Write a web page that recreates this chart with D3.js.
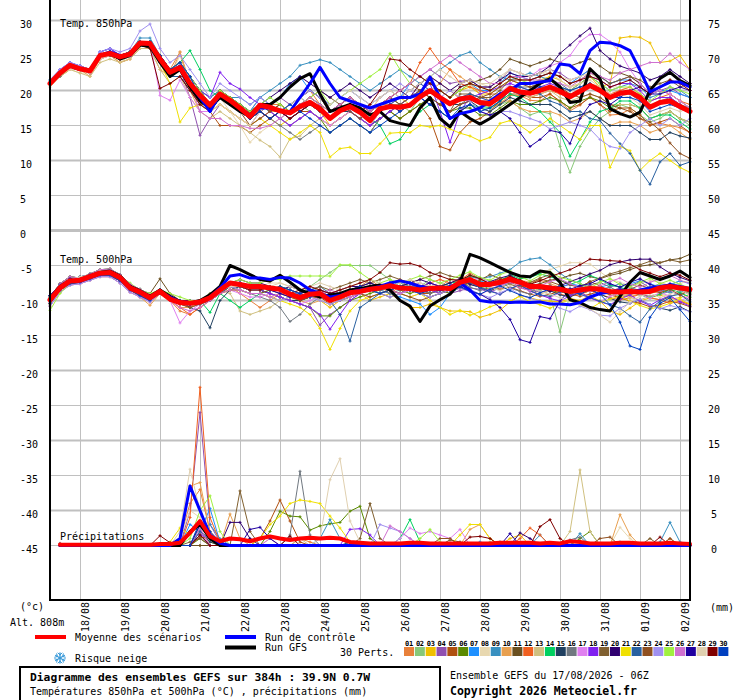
<!DOCTYPE html>
<html><head><meta charset="utf-8">
<script src="https://cdn.jsdelivr.net/npm/d3@7"></script>
<style>
body{margin:0;background:#fff;}
svg text{font-family:"DejaVu Sans Mono",monospace;font-size:10px;fill:#000;}
</style></head><body>
<svg id="c" width="740" height="700"></svg>
<script>
// ---------- categories / labels ----------
const dayLabels = ["18/08","19/08","20/08","21/08","22/08","23/08","24/08","25/08","26/08","27/08","28/08","29/08","30/08","31/08","01/09","02/09"];
const firstDayHour = 18;           // 18/08 00Z = run start (17/08 06Z) + 18 h
const stepHours = 6;
const leftTickLabels  = [30,25,20,15,10,5,0,-5,-10,-15,-20,-25,-30,-35,-40,-45];
const rightTickLabels = [75,70,65,60,55,50,45,40,35,30,25,20,15,10,5,0];
const memberNames = ["01","02","03","04","05","06","07","08","09","10","11","12","13","14","15","16","17","18","19","20","21","22","23","24","25","26","27","28","29","30"];
const memberColors = ["#e8803a","#88c878","#f0c000","#9050b0","#b05010","#5a8a00","#1e90ff","#e8d8b0","#3890c0","#e8a050","#6a5020","#f06020","#d0c080","#00d060","#204060","#707880","#e080f0","#8020f0","#806030","#300070","#f0e000","#2860a0","#905020","#a090f0","#a0f040","#d070d0","#2000a0","#e0d0b0","#800000","#0040c0"];

// ---------- Temp 850 hPa ----------
const mean850 = [21.0,22.5,23.6,23.1,22.8,25.0,25.3,24.8,25.2,26.8,26.7, 24.5,22.6,23.3,21.0,19.3,17.9,19.5,18.6,17.5,16.3, 17.9,17.6,17.1,16.8,17.7,18.3,17.4,16.0,17.1,17.7, 16.9,15.7,17.4,17.7,17.6,17.9,19.1,20.0,19.0,18.1, 18.8,19.0,18.3,18.1,19.1,20.3,19.8,19.6,20.0,20.5, 19.9,19.1,19.9,20.7,20.0,19.0,19.6,19.8,19.0,17.6, 18.3,18.5,17.7,17.0];
const control850 = [21,22.5,23.5,23,23,25,25.5,25,25,26.8,26.8, 24.5,22.5,23.5,21,19,17,19.5,18.5,17.5,16.5, 17.5,17.5,17,17,19,21,23.3,21,19,18.5, 18,17.5,18,18.5,19,19,19.5,21.9,19,16, 16.7,17,17.5,18.5,19.5,20,21,21,21.2,21.4, 23.8,23.6,22.4,25.7,26.9,26.8,26.4,25.7,22.9,19.8, 20.5,21.2,21.2,20.5];
const gfs850 = [21,22.5,23.5,23,22.8,25,25.3,24.5,25,26.5,26.3, 24,22,23,20.5,18.5,17.5,19,18,17,16.5, 18,18,19,20.5,21.7,22.4,19.5,17,17.5,18, 17.5,16.5,17,15.7,15.3,15,17.5,19,16,14.8, 17,16,15.2,16,17,18,19,20,21,21.7, 20.5,18.3,18.5,23.1,21.7,17.4,16.7,16.2,16.9,20, 21.7,22.6,21.4,20.7];
const members850 = [
[21,22.5,23.5,23,22.5,25,25,24,24.5,26.5,26.5, 25,23,25.5,21,20,18,20,19,18,17, 19,18,18,17,19,20,18,17,18,19, 18,17,19,20,19,19,21,22,21,20, 18.8,19.5,18.3,17.6,18.1,19.3,19.3,18.6,18.5,19.5, 18.4,17.1,17.9,19.2,18,16.5,16.6,17.3,16,15.1, 15.3,15,14.7,14],
[21.5,22.5,23.5,23,23,25,25.5,25,25.5,27,27, 25,22,23,21,19,17,19,18,17,16, 18,17,16,17,18,17,16,15,16,17, 16,15,17,18,18,17,19,20,19,18, 18.5,19,18,17.5,18,18.5,17.5,16.5,17,16.7, 12,8.3,12,14.3,16,17,18,17.5,16.5,15.5, 16,17,16,15],
[21,22,23,23,22.5,24.5,25,24.5,25,26.5,26.5, 24,22,23,20,18,18,20,19,18,16, 17,16,15,16,17,18,17,15,16,17, 16,15,17,18,19,18,20,21,20,19, 20,20.5,19.5,19.5,20.5,21.5,21,21,21.5,22, 21.5,20.5,21,22,20.5,21,27.5,27.7,27.6,26.8, 24,24.2,25,22.9],
[21,22,23.5,23,22.5,25,25,24.5,25,27,27, 24,22,23,19,13.6,16,18,17,16,15, 17,18,19,18,19,20,19,17,18,19, 18,17,18,19,20,21,22,23,22,21, 21.3,21.5,20.5,20.5,21.5,23,22.5,22,22.5,23, 22.5,21.5,22,23,22,21,21.5,22,21,19.5, 20,20.5,19.5,19],
[21,22.5,23.5,23,23,25,25.5,25,25,26.5,26.5, 24,22,22,20,18,17,15,15,14.9,14, 15,16,17,16,17,17,16,15,16,17, 16,15,16,17,16,17,18,16,12,11.5, 14,15.5,16,17,18.5,19.5,19.5,19,19,19.5, 18.5,17.5,18,19,18,17,17.5,17.5,16.5,15, 15.5,16,15,14],
[21,22,23.5,23,22.5,25,25,24.5,25,26.5,26.5, 25,23,24,22,20,19,20,19,18,17, 18,17,16,15,16,17,16,14,15,16, 15,14,16,17,16,17,18,19,18,17, 17.5,17.5,16.5,16.5,17.5,18.5,18,18,18.5,19, 18.5,17.5,18.5,19,18.5,17.5,18,18,17.5,16, 16.5,17,16,15.5],
[21.5,23,24,23.5,23,25.5,26,25,25.5,27,27, 25,23,24,22,19,18,20,19,18,17, 19,18,19,21,22,20,19,18,19,20, 19,18,19,20,19,21,22,21,20,19, 20.5,21,20,20,21,22.5,22,21.5,22,22.5, 22,21,22,23,22,21,21.5,21.5,20.5,19.5, 20,20,19.5,19],
[21,22.5,23,22.5,22.5,24.5,25,24,25,26,26, 24,22,25,21,19,18,19,17,15,12.6, 14,15,16,17,18,19,18,17,18,19, 18,17,19,20,19,20,21,22,21,20, 21,21.5,21,20.5,21.5,23,22.5,22,22.5,23, 22,21.5,22,22.5,21.5,20.5,20.5,20,19.5,18, 18.5,18.5,17.5,17],
[21,22.5,24,23.5,23,25.5,26,25,25.5,27.5,27.5, 25,23,24,22,20,19,20,19,19,18, 19,20,21,22,23.6,24,24.4,24,23,22, 21,20,21,22,23,22,21,22,23,24, 25,25.5,24,23,22,21.5,22,22.5,22,21.5, 20.5,20,21,22,21,20,20.5,21,20.5,19, 19.5,20.5,20,19],
[21,22,23,23,22,24.5,25,24,24.5,26,26, 23,22,25.5,20,17,17,18,17,16,15, 16,17,17,16,17,18,17,16,17,18, 17,16,18,18,17,18,19,20,21,23, 22,21,19.5,18.5,18.5,18.5,17.5,17,17,17, 16.5,15.5,16,17,16,15,15.5,15.5,15,14, 14.5,15,14,13],
[21,22.5,23.5,23,23,25,25.5,25,25.5,27,27, 25,23,23,21,20,18,19,18,17,16, 17,18,17,18,19,20,19,17,18,19, 18,17,18,19,18,19,20,21,20,19, 20,21,21.5,22,23,24.5,24,23.5,24,24.5, 24,23.5,24,24.5,23.5,22.5,22.5,22,21,19.5, 20,19.5,18.5,17.5],
[21,22.5,23.5,23,22.5,25,25,24.5,25,26.5,26.5, 24,23,23,21,19,18,19,18,17,16, 17,18,17,16,17,18,17,16,17,18, 17,16,18,19,20,21,24,26,24,23, 21,20.5,20,19.5,19.5,20,19.5,19,19.5,20, 19.5,19,20,21,20.5,19.5,20,20.5,19.5,18.5, 19,19.5,18.5,18],
[20.5,22,23,22.5,22,24,24.5,24,24.5,26,26, 23,21,22,19,17,16,17,16,15,14, 12.9,12,10.5,13.1,13.5,15,16,15,16,17, 16,15,17,18,17,18,19,20,19,18, 19,19.5,18.5,18,19,20,19.5,19,19.5,20, 19,18.5,19,19.5,19,18,18,18,17.5,16, 16.5,17,16,15.5],
[21,22.5,23.5,23,23,25,25,24.5,25,26.5,27, 25,23,24,25.7,23,20,19,19,18,17, 18,17,18,17,18,19,18,16,17,18, 17,16,15,12.4,13,15,17,18,17,16, 17,18,17.5,17.5,18.5,19.5,19,18,17,15.5, 14,10.6,13,15.5,17,17.5,18.5,18.5,17.5,16, 16.5,16.5,15.5,14.5],
[21,22.5,23.5,23,23,25,25.5,25,25.5,27,26.5, 24,22,23,21,19,18,19,18,17,16, 17,16,17,16,17,18,17,16,17,17, 16,15,16,17,18,18,19,20,19,18, 18,18.5,17.5,17,18,19,18.5,18,18,18, 17,16,16.5,17,16,15,15,15,14,13, 13,14,13.5,13.2],
[21,22,23.5,23.5,23,25,25,24.5,25,26.5,26.5, 24,22,23,21,19,17,19,18,17,16, 17,16,15,14,13,14,15,14,15,16, 15,14,16,17,18,19,20,19,18,17, 18,19,18.5,18.5,19.5,20.5,20.5,20.5,21,21.5, 21,20,20.5,21,20,19,19.5,19.5,18.5,17.5, 18.5,19,18,17.5],
[21,22.5,23.5,23,22.5,25,25,24.5,25,27,27, 19.3,18.6,21.5,19,17,17,18,17,16,15, 16,17,16,15,16,17,16,15,16,17, 16,15,17,18,19,20,21,20,19,18, 19,19.5,19,18.5,19.5,21,22,22,23,23.5, 24,25,27,28,28,27,25.5,23,21,19.5, 20,19.5,18.5,17.5],
[21,23,24,23.5,23,25.5,26,25,25.5,27,27, 25,23,24,22,20,19,22.6,21,20.2,19, 18,17,16,15,16,17,16,17,18,17, 16,15,16,17,18,19,20,21,17,12.6, 17,19,19.5,20,20.5,21,20.5,20,20.5,21, 20.5,20,21,22,21.5,20.5,21,21,20,18.5, 19,19,18,17],
[21,22.5,23.5,23,23,25,25.5,25,25,26.5,26.5, 24,22,23,21,19,18,19,18,17,16, 18,17,18,17,18,19,20,19,18,17, 16,17,18,19,18,19,20,19,18,17, 19.5,19.5,19,19,20,21.5,21.5,21.5,22,22.5, 22,21,21.5,22.5,22,21,21.5,22,21.5,20.5, 21,21.5,20.5,21],
[21,22.5,23.5,23,23,25,25.5,25,25.5,27,27, 25,23,24,22,20,18,20,19,18,17, 18,19,20,21,22,21,20,19,20,21, 20,19,20,21,20,19,21,22,21,20, 21,21.5,20.5,20.5,21.5,22.5,22,22,22.5,23.5, 25.3,26.5,27.8,28.9,25.7,24.5,23.5,23,22.5,21.5, 22,23,22,21],
[21,22.5,23.5,23,23,25,25,24.5,25,26.5,26.5, 24,21,15.5,17.5,18,17,18,17,16,15, 16,15,14,13,14,15,14,10.5,11.7,11.9, 11,11,12.4,13.9,14,14,15,14.8,15,14.5, 13.9,13.5,12.8,13.3,15.3,15.7,15,14,15,16, 15,14,13,15,15,9,12,11.4,8.6,10, 11,10,9,8.3],
[21,22.5,23.5,23,23,25,25,24.5,25,26.5,26.5, 24,22,22,20,18,17,19,18,17,16, 17,16,17,18,19,18,17,16,17,18, 17,16,17,18,19,20,21,20,19,18, 19,19.5,19,18.5,19.5,20.5,20.5,20,19.5,18.5, 18,17,17,16,15.7,13.9,12.4,11,8.6,6.6, 9.8,11,9.3,9.8],
[21,22.5,23.5,23,22.5,25,25,24.5,25,26.5,26.5, 24,22,23,21,19,18,20,19,17,15, 16,17,18,17,18,19,18,17,18,19, 18,17,18,19,20,21,20,19,18,17, 18,18.5,19,19.5,20.5,21.5,21,20.5,21,21.5, 20.5,19.5,19,19.5,19,18,17.5,17,16,15.5, 14.3,12.5,11,10.3],
[21.5,23,24,23.5,23,25.5,26,25.5,26,28.5,29.5, 26,24,25,23,21,19,21,20,19,18, 19,18,17,18,19,20,19,18,19,20, 19,18,19,20,21,20,19,18,19,20, 19,18.5,17,16.5,17,17,16.5,16,15.5,14.5, 15,15.5,15,14.5,13,12,11.7,14,15,16, 15,16,15,16],
[21,22.5,23.5,23,23,25,25.5,25,25.5,27,27, 25,23,24,22,20,18,20,19,18,17, 18,19,18,17,18,19,20,18,19,20, 21,22,23,25.3,23,21,22,21,20,19, 20,21,20.5,20,21,22,21.5,21,21.5,21.5, 20.5,20,21,22,21,20,20.5,20.5,19.5,18.5, 19.5,20.5,20,19.5],
[21,22.5,23.5,23,22.5,24.5,25,24.5,25,26.5,26.5, 24,22,23,21,17,16,16,15,15,14.6, 14.6,15,16,17,18,19,18,17,18,19, 18,17,18,19,20,21,22,23,24,25, 24,23,22,21,21,22,22,21.5,21.5,21.5, 21,20.5,21.5,22.5,22,21.5,22.5,23,23.5,24, 24,25.3,24,23],
[21,22.5,23.5,23,23,25,25.5,25,25,26.5,26.5, 25,23,23.5,21,19,18,19,18,17,16, 17,18,17,16,17,18,17,16,17,18, 17,16,17,18,17,18,19,18,17,16, 17,18,17,16.5,17,16,14,12,13,14.3, 14,12.4,16,18,18.5,18,19,20,20.5,19.5, 19.5,20,20.5,20],
[21,22.5,23,23,22.5,24.5,25,24.5,25,26.5,26.5, 24,22,23,20,18,17,18,17,16,15, 17,18,17,18,19,18,17,18,19,20, 19,18,19,20,19,20,21,22,23,22, 21,21.5,21,21,22,23,22.5,22,22.5,22.5, 21.5,20.5,21,21.5,20.5,19.5,19.5,19,18,16.5, 17,17.5,17,17.5],
[21,22.5,23.5,23,23,25,25,24.5,25,26.5,26, 20.3,21,22,20,18,17,19,18,17,16, 17,16,17,16,17,18,17,16,17,18, 17,18,20,24.5,24.3,23,22,21,20,19, 20.5,21,20.5,20,21,22,21.5,21.5,22,22.5, 22,21,21.5,22,21.5,20.5,21,21.5,20.5,19.5, 20.5,21.5,21,20],
[21,22.5,23.5,23,23,25,25.5,25,25.5,27,27, 25,23,24,22,19,17,19,18,17,16, 17,16,17,18,17,16,15,14,15,16, 15,14,15,16,17,18,19,18,17,16, 17.5,18,17,17.5,18.5,20,19.5,19.5,20.5,20.5, 20.5,20,20.5,21,20,19,19,19,18.5,17, 17.5,18,17.5,17]
];

// ---------- Temp 500 hPa ----------
const mean500 = [-9.9,-8.2,-7.2,-7.1,-6.6,-6.1,-6.0,-6.7,-8.2,-8.8,-9.6, -8.7,-9.8,-10.3,-10.4,-10.2,-9.6,-8.5,-7.5,-7.7,-8.0, -8.0,-8.2,-8.4,-9.1,-9.6,-9.1,-9.0,-10.0,-9.5,-8.9, -8.7,-8.4,-8.2,-7.9,-8.2,-8.3,-8.5,-8.3,-8.2,-8.3, -7.4,-7.0,-7.7,-7.7,-7.4,-7.0,-7.4,-8.0,-8.0,-8.2, -8.4,-8.7,-8.5,-8.3,-8.4,-8.7,-8.8,-8.7,-8.8,-8.7, -8.2,-8.0,-8.2,-8.4];
const control500 = [-10,-8.3,-7.3,-7.2,-6.6,-6.2,-6.0,-6.8,-8.2,-8.7,-9.5, -8.8,-9.5,-10.2,-10.5,-10.3,-9.5,-8.2,-6.5,-6.3,-6.8, -6.8,-7.0,-6.7,-6.8,-7.5,-8.5,-9.0,-9.5,-9.3,-8.8, -8.5,-8.3,-8.0,-7.5,-7.2,-7.5,-8.0,-8.2,-8.5,-8.0, -7.5,-8.5,-10.0,-10.2,-10.2,-10.3,-10.2,-10.3,-10.2,-10.5, -10.5,-10.6,-10.3,-9.5,-9.0,-8.8,-8.5,-8.8,-8.5,-8.2, -8.0,-7.8,-8.0,-8.3];
const gfs500 = [-9.8,-8.0,-7.2,-7.0,-6.5,-6.0,-5.8,-6.5,-8.0,-8.6,-9.4, -8.5,-9.4,-10.2,-10.4,-10.0,-9.2,-8.0,-5.0,-5.6,-6.3, -7.0,-7.2,-6.4,-7.4,-8.5,-9.0,-9.5,-9.2,-9.0,-8.5, -8.3,-8.0,-7.8,-8.5,-10.0,-10.8,-13.0,-10.8,-9.9,-9.1, -7.4,-3.4,-3.9,-4.6,-5.3,-6.0,-6.5,-6.6,-5.8,-6.0, -7.4,-9.9,-10.3,-11.0,-11.3,-11.5,-9.4,-7.4,-6.0,-6.5, -7.0,-6.5,-5.8,-6.7];
const members500 = [
[-10,-8,-7,-7,-6.5,-6,-6,-7,-8,-9,-9.5, -9,-10,-11.5,-12,-11,-10,-9,-8,-9,-10, -11,-10,-9,-9,-10,-9,-8,-9,-10,-9, -8,-7,-8,-9,-8,-7,-8,-9,-8,-7, -7.2,-6.5,-7,-7.6,-7.4,-6.8,-7.2,-7.9,-8.5,-8.3, -8.2,-8.8,-8.6,-7.9,-8.1,-8.9,-9.6,-9.2,-8.7,-8.9, -8.8,-8.4,-8.9,-9.6],
[-9.5,-7.6,-6.6,-6.8,-6.2,-5.6,-5.5,-6.3,-7.7,-8.4,-9.2, -8.5,-9.5,-10,-10,-10,-9,-8,-7.5,-7.5,-8, -8,-8.5,-8,-8.5,-9,-8,-7,-6,-5,-5, -5,-5,-6,-7,-8,-7.5,-8,-7,-7.5,-8, -7.1,-6.6,-6.9,-7.2,-7.4,-7.1,-7.5,-8.1,-8.6,-9.1, -14.5,-9.2,-8.6,-8.1,-8.4,-8.9,-9.4,-9.1,-8.6,-8.1, -7.6,-7.8,-7.2,-7.5],
[-10.4,-8.5,-7.6,-7.4,-6.9,-6.4,-6.4,-7.2,-8.5,-9.3,-10, -9,-10,-10.5,-11,-10,-9.5,-9,-8,-8.5,-9, -9,-9.5,-10,-9.5,-10,-9,-10,-11,-10,-9.5, -9,-10,-9.5,-9,-10,-11,-11,-10.5,-11,-11.5, -11.5,-11.6,-12.4,-12,-11.4,-10.2,-9.3,-9.6,-10,-10.1, -10.2,-9.7,-10,-9.3,-10.1,-11.5,-12,-11.1,-10.1,-9.6, -9.2,-9.8,-9.6,-9.1],
[-9.8,-7.9,-7.1,-6.6,-6.4,-5.8,-5.8,-6.8,-8.1,-8.7,-9.4, -8.5,-9.5,-10.5,-11,-10.5,-9.5,-8.5,-8,-8,-8.5, -8.5,-9,-9.5,-10,-10.5,-11,-13.5,-12,-11,-10, -9,-8.5,-8,-8.5,-9,-8,-7.5,-8,-8.5,-9, -8.6,-8.2,-8.4,-8.8,-8.2,-7.6,-7.9,-8.4,-8.8,-8.6, -8.1,-7.7,-8.1,-8.6,-9,-8.7,-8.2,-8.6,-9.1,-9.4, -9.1,-8.7,-9.2,-9.9],
[-10.8,-8.8,-7.8,-7.6,-7.1,-6.6,-6.6,-7.5,-8.8,-9.5,-10.2, -9,-10,-10,-10.5,-10.5,-10,-9,-8,-8,-8.5, -8.5,-8,-8.5,-9,-10,-9.5,-9.5,-10.5,-10,-9.5, -9,-8.5,-8,-7.5,-8,-8.5,-9,-9,-8.5,-8, -7.6,-7.1,-7.6,-8.1,-8.4,-8.1,-8.6,-9.1,-9.4,-9.1, -8.7,-9.1,-9.4,-9.1,-8.7,-9.2,-9.6,-10.1,-10.4,-10.9, -10.6,-10.1,-10.4,-10.9],
[-10.5,-8.5,-7.5,-7,-6.5,-6,-6,-7,-8,-9,-9.5, -9,-10,-10.5,-10.5,-10,-9.5,-9,-8,-8,-8.5, -8.5,-9,-9.5,-10,-10.5,-11,-12.2,-12.2,-11,-10, -9.5,-9,-8.5,-8,-8.5,-9,-8.5,-8,-8.5,-9, -8.1,-7.7,-8.1,-8.4,-8.1,-7.6,-8.1,-8.6,-8.2,-8.5, -8.9,-8.7,-9.1,-8.6,-8.2,-8.6,-9.1,-8.7,-9.2,-8.6, -8.1,-8.4,-8.1,-8.9],
[-9.3,-7.8,-6.9,-7.1,-6.3,-6.1,-5.9,-6.6,-7.9,-8.9,-9.7, -8.5,-9.5,-10,-10.5,-10,-9.5,-8.5,-7.5,-7.5,-8, -8,-8,-8.5,-9,-9,-8.5,-8.5,-9,-9.5,-9, -8.5,-8,-8.5,-9,-9.5,-10,-10.5,-12,-11,-9, -8.1,-7.6,-7.2,-7.6,-7.9,-7.6,-7.2,-7.6,-8.1,-8.4, -8.1,-7.6,-7.9,-8.4,-8.1,-7.7,-8.1,-7.6,-7.2,-7.6, -8.1,-7.7,-7.2,-7.6],
[-9.5,-7.6,-6.6,-6.8,-6.2,-5.6,-5.5,-6.3,-7.7,-8.4,-9.2, -9,-9.5,-10,-10.5,-10,-9.5,-8.5,-7.5,-7.5,-8, -8,-7.5,-7.5,-8,-8.5,-8,-8.5,-9,-8.5,-8, -7.5,-7,-7.5,-8,-7.5,-7,-7.5,-8,-7.5,-7, -7.2,-6.6,-7,-7.4,-7.1,-6.6,-6.9,-6.6,-6.1,-5.6, -5.1,-4.6,-4.6,-4.8,-5.9,-6.9,-7.4,-7.9,-7.6,-7.1, -7.4,-7.9,-7.6,-7.1],
[-9.8,-7.9,-7.1,-6.6,-6.4,-5.8,-5.8,-6.8,-8.1,-8.7,-9.4, -9,-9.5,-10,-10.5,-10.5,-9.5,-8.5,-7.5,-7.5,-8, -8,-8.5,-8,-8.5,-9,-8.5,-8,-9,-9.5,-9, -8.5,-8,-8.5,-8,-7.5,-8,-8,-8.5,-8,-7.5, -7.1,-6.6,-6.9,-6.6,-6.1,-5.6,-4.5,-4.1,-3.9,-4.9, -6.1,-7.1,-7.6,-8.1,-8.4,-8.1,-7.6,-8.1,-8.6,-8.1, -8.4,-8.9,-8.6,-9.1],
[-10,-8,-7,-7,-6.5,-6,-6,-7,-8.5,-9.5,-10.7, -9,-10,-11,-11,-10.5,-10,-9,-8,-8.5,-9, -9,-9.5,-9,-9.5,-10,-10.5,-10,-10.5,-10,-9.5, -9,-8.5,-8,-8.5,-8,-7.5,-8,-8.5,-9,-8.5, -8.1,-7.6,-7.9,-7.6,-7.1,-6.6,-7.1,-7.4,-7.1,-7.6, -8.1,-8.6,-8.9,-8.6,-8.1,-8.6,-9.1,-9.4,-9.1,-9.6, -9.9,-9.6,-10.1,-10.4],
[-10,-8,-7,-7,-6.5,-6,-6,-6.5,-8,-8.5,-9, -6.9,-9,-10,-10.5,-10,-9.5,-8.5,-8,-8,-8.5, -8.5,-9,-9.5,-10,-10,-9.5,-9.5,-10,-9.5,-9, -9,-8.5,-9,-9.5,-9,-8.5,-8.5,-9,-8.5,-8, -7.6,-7.1,-7.4,-7.9,-7.6,-7.1,-7.4,-7.9,-7.6,-7.1, -6.9,-6.4,-6.1,-6.6,-6.9,-6.4,-6.1,-5.6,-5.1,-4.9, -4.6,-4.2,-4,-3.4],
[-10.4,-8.5,-7.6,-7.4,-6.9,-6.4,-6.4,-7.2,-8.5,-9.3,-10, -9,-10,-11,-12,-11,-10,-9,-8,-8,-8.5, -8.5,-8,-8.5,-9,-9.5,-9,-8.5,-9.5,-9,-8.5, -8,-8.5,-8,-7.5,-7,-7.5,-8,-7.5,-7,-7.5, -7.1,-6.1,-6.9,-7.6,-7.1,-6.6,-7.1,-7.6,-8.1,-8.6, -9.1,-9.4,-9.1,-8.6,-9.1,-9.6,-9.9,-9.6,-9.1,-9.6, -9.9,-10.4,-10.1,-10.6],
[-10,-8,-7,-7,-6.5,-6,-6,-7,-8,-9,-9.5, -9,-9.5,-10,-10.5,-10,-9.5,-8.5,-9,-11.5,-12, -11.5,-11,-10,-9.5,-9,-9.5,-10,-10.5,-10,-9.5, -9,-8.5,-8,-8.5,-9,-8.5,-8,-8.5,-9,-8.5, -8.1,-7.6,-8.1,-8.6,-8.1,-7.6,-8.1,-8.6,-9.1,-8.6, -8.1,-8.6,-9.1,-9.4,-9.1,-8.6,-9.1,-9.6,-9.9,-9.4, -9.1,-9.4,-8.9,-8.6],
[-9.5,-7.6,-6.6,-6.8,-6.2,-5.6,-5.5,-6.3,-7.7,-8.4,-9.2, -8.5,-9.5,-10,-10,-10,-11.7,-9,-10,-11,-10, -9,-8.5,-8,-8.5,-9,-9.5,-9,-9.5,-9,-8.5, -8,-8.5,-9,-8.5,-8,-7.5,-8,-8.5,-8,-7.5, -7.3,-6.4,-6.8,-7.7,-7.2,-6.3,-6.9,-6.7,-6.2,-6.6, -7.1,-7.7,-7.2,-6.4,-7,-7.8,-8.1,-8.6,-9.2,-9.6, -9.1,-8.4,-8.9,-9.5],
[-9.8,-7.9,-7.1,-6.6,-6.4,-5.8,-5.8,-6.8,-8.1,-8.7,-9.4, -9,-9.5,-10,-11,-11.5,-13.9,-10,-8.5,-8,-8.5, -8.5,-9,-9.5,-10,-10,-9.5,-9,-9.5,-9,-8.5, -8,-7.5,-8,-8.5,-8,-8.5,-9,-9.5,-9,-8.5, -8.2,-7.3,-8.1,-8.7,-7.8,-7.4,-8.2,-8.4,-7.9,-8.6, -9.2,-9.5,-8.8,-8.4,-9.1,-9.7,-10.2,-10.4,-9.9,-10.6, -11.1,-11.4,-10.9,-11.6],
[-9.3,-7.8,-6.9,-7.1,-6.3,-6.1,-5.9,-6.6,-7.9,-8.9,-9.7, -9,-9.5,-10,-10.5,-10,-9.5,-8.5,-8,-8.5,-9, -9.5,-10,-11,-13,-12,-10.5,-9.5,-10,-9.5,-9, -8.5,-8,-8.5,-9,-8.5,-8,-8.5,-9,-8.5,-8, -7.4,-8.1,-8.6,-7.9,-7.3,-8.2,-8.7,-9.1,-8.4,-7.8, -8.6,-9.2,-8.3,-7.8,-7.4,-8.1,-8.8,-7.9,-7.3,-8.2, -8.7,-7.8,-8.4,-9.1],
[-10.8,-8.8,-7.8,-7.6,-7.1,-6.6,-6.6,-7.5,-8.8,-9.5,-10.2, -9,-10,-13.2,-11.5,-10.5,-10,-9,-8.5,-9,-9.5, -9.5,-9,-9.5,-10,-10.5,-10,-9.5,-10,-9.5,-9, -9,-9.5,-9,-8.5,-9,-9.5,-9,-8.5,-8,-8.5, -7.9,-7.3,-6.8,-7.4,-8.1,-7.2,-7.9,-8.7,-9.2,-9.6, -8.9,-8.3,-9.1,-9.7,-10.2,-9.4,-8.9,-8.2,-9.1,-9.7, -8.8,-9.4,-10.1,-9.3],
[-10.4,-8.5,-7.6,-7.4,-6.9,-6.4,-6.4,-7.2,-8.5,-9.3,-10, -9,-10,-10.5,-10.5,-10,-9.5,-8.5,-8,-8,-8.5, -8.5,-9,-9.5,-10,-10.5,-11,-12,-14.1,-12,-10, -9,-8.5,-8,-8.5,-9,-8.5,-8,-8.5,-9,-8.5, -7.8,-7.3,-8.2,-8.6,-9.1,-8.3,-7.8,-8.6,-9.2,-9.7, -10.1,-9.3,-8.8,-9.6,-10.2,-10.6,-9.8,-9.2,-10.1,-10.7, -9.9,-9.3,-10.2,-10.8],
[-9.5,-7.6,-6.6,-6.8,-6.2,-5.6,-5.5,-6.3,-7.7,-8.4,-9.2, -8.5,-9.5,-10,-10.5,-10,-9,-8,-7.5,-7.5,-8, -8,-8.5,-8,-8.5,-9,-8.5,-8,-8.5,-8,-7.5, -7,-7.5,-7,-6.5,-7,-7.5,-7,-6.5,-6,-6.5, -6.8,-7.6,-7.1,-6.3,-6.9,-7.7,-8.2,-7.4,-6.8,-6.3, -7.1,-7.8,-8.1,-7.3,-6.8,-6.2,-5.8,-5.3,-4.9,-4.4, -4.6,-4.2,-4.5,-4.2],
[-9.3,-7.8,-6.9,-7.1,-6.3,-6.1,-5.9,-6.6,-7.9,-8.9,-9.7, -8.5,-9.5,-10,-10,-10,-9.5,-8.5,-7.5,-7,-7.5, -7.5,-8,-8.5,-8,-8.5,-9,-8.5,-9,-8.5,-8, -8,-7.5,-8,-8.5,-8,-7.5,-7,-7.5,-8,-7.5, -6.9,-7.7,-8.1,-7.3,-6.8,-6.4,-7.2,-7.8,-8.2,-8.7, -7.9,-7.3,-6.8,-6.2,-5.7,-4.9,-4.5,-4.2,-4.1,-4.1, -5.2,-6.1,-6.7,-7.2],
[-10,-8,-7,-7,-6.5,-6,-6,-7,-8,-9,-9.5, -9,-10,-10.5,-10.5,-10,-9.5,-9,-8.5,-8.5,-9, -9,-9.5,-10,-10.5,-11,-12,-14,-17,-14,-11.5, -10,-9.5,-9,-8.5,-9,-9.5,-9,-10,-11,-12, -11.4,-12.1,-11.6,-10.9,-10.4,-10.1,-9.4,-10.2,-10.6,-11.1, -10.4,-9.9,-10.6,-11.2,-10.3,-9.8,-9.4,-10.1,-10.7,-11.2, -10.9,-10.4,-9.8,-10.6],
[-9.8,-7.9,-7.1,-6.6,-6.4,-5.8,-5.8,-6.8,-8.1,-8.7,-9.4, -9,-9.5,-10,-10.5,-10.5,-10,-9,-8,-8,-8.5, -8.5,-8,-8.5,-9,-9.5,-9,-9.5,-10,-12,-15.8, -11,-10,-9,-8.5,-8,-8.5,-9,-8.5,-8,-8.5, -7.9,-7.4,-8.2,-8.7,-9.1,-8.3,-7.8,-8.6,-9.2,-9.4, -8.8,-8.3,-9.1,-9.6,-10.1,-10.6,-11.1,-12.2,-13.1,-11.2, -10.1,-9.4,-9.1,-10.2],
[-10.4,-8.5,-7.6,-7.4,-6.9,-6.4,-6.4,-7.2,-8.5,-9.3,-10, -9,-10,-10.5,-11,-10.5,-10,-9,-8.5,-8.5,-9, -9,-8.5,-9,-9.5,-10,-9.5,-9,-9.5,-10,-9.5, -9,-9.5,-9,-8.5,-9,-9.5,-10,-9.5,-9,-8.5, -8.2,-7.3,-7.9,-7.6,-6.8,-7.4,-8.1,-7.7,-6.9,-7.3, -7.8,-8.6,-8.1,-7.3,-7.9,-8.7,-9.1,-8.4,-7.8,-8.3, -8.9,-8.4,-9.2,-8.6],
[-10.8,-8.8,-7.8,-7.6,-7.1,-6.6,-6.6,-7.5,-8.8,-9.5,-10.2, -9,-9.5,-10,-10.5,-10,-9.5,-8.5,-8,-8.5,-9, -9,-9.5,-10,-9.5,-9,-9.5,-10,-10.5,-10,-9.5, -9,-8.5,-9,-9.5,-9,-8.5,-9,-9.5,-9,-8.5, -7.8,-8.4,-9.1,-9.6,-8.9,-8.3,-9.2,-9.7,-10.1,-10.4, -11.1,-11.6,-10.8,-11.3,-12.1,-12.2,-11.1,-10.4,-9.8,-10.6, -11.2,-10.7,-11.1,-11.6],
[-11.4,-9,-7.5,-7,-6.5,-6,-6,-6.5,-7.5,-8.5,-9, -8.5,-9,-9.5,-10,-10,-9.5,-8.5,-7.5,-7,-7.5, -7.5,-7,-7,-6.5,-6.5,-6.5,-6.5,-6.5,-4.9,-4.9, -6,-7,-7.5,-7,-7.5,-7,-6.5,-7,-7.5,-7, -6.4,-5.9,-6.7,-7.1,-6.3,-5.8,-6.6,-7.2,-6.4,-5.9, -6.7,-7.1,-7.6,-8.2,-7.4,-6.9,-7.7,-8.1,-7.4,-6.8, -7.6,-7.1,-7.7,-8.2],
[-9.5,-7.6,-6.6,-6.8,-6.2,-5.6,-5.5,-6.3,-7.7,-8.4,-9.2, -9,-10,-11,-11.5,-11,-10,-9,-8.5,-8.5,-9, -9,-9.5,-9,-8.5,-9,-9.5,-9,-8.5,-9,-9.5, -9,-8.5,-8,-8.5,-9,-8.5,-8,-7.5,-8,-8.5, -8.3,-8.7,-9.2,-8.4,-7.8,-7.4,-8.2,-8.6,-7.9,-7.3, -6.9,-7.6,-8.2,-8.7,-7.9,-7.3,-6.8,-7.6,-8.1,-7.4, -6.9,-6.4,-7.1,-7.6],
[-9.3,-7.8,-6.9,-7.1,-6.3,-6.1,-5.9,-6.6,-7.9,-8.9,-9.7, -9,-9.5,-10,-10.5,-10,-9.5,-8.5,-7.5,-7.5,-8, -8,-8.5,-9,-9.5,-9,-8.5,-9,-9.5,-9,-8.5, -8,-8.5,-8,-7.5,-8,-8.5,-8,-7.5,-8,-8.5, -8,-8.6,-9.1,-9.9,-11,-12.7,-15.6,-16,-12.3,-12.6, -10.1,-8.4,-7.9,-7.6,-6.9,-7.6,-8.1,-7.4,-6.9,-7.7, -8.2,-7.6,-8.1,-8.7],
[-9.8,-7.9,-7.1,-6.6,-6.4,-5.8,-5.8,-6.8,-8.1,-8.7,-9.4, -9,-9.5,-10,-10.5,-10,-9.5,-8.5,-8,-8,-8.5, -8.5,-8,-7.5,-8,-8.5,-8,-7.5,-8,-8.5,-8, -7.5,-7,-7.5,-8,-7.5,-7,-7.5,-8,-8.5,-8, -7.6,-6.9,-7.7,-8.1,-8.6,-7.9,-7.4,-8.1,-8.7,-9.1, -9.6,-10.1,-10.6,-11.2,-12.1,-13.1,-11.6,-10.2,-9.4,-8.9, -9.6,-9.1,-8.4,-9.2],
[-10,-8,-7,-7,-6.5,-6,-6,-7,-8,-9,-9.5, -9,-9.5,-10,-10.5,-10,-9.5,-8.5,-7.5,-8,-8.5, -8.5,-8,-8.5,-9,-8.5,-8,-8.5,-9,-8.5,-8, -7.5,-7,-6,-4.6,-4.8,-4.7,-5.1,-6,-6.5,-7, -7.1,-6.4,-6.9,-7.6,-7.2,-6.6,-7.1,-7.7,-7.2,-6.6, -6.1,-5.6,-4.9,-4.1,-4.2,-4.3,-4.4,-4.8,-5.6,-6.1, -6.6,-6.1,-6.4,-7.1],
[-10.4,-8.5,-7.6,-7.4,-6.9,-6.4,-6.4,-7.2,-8.5,-9.3,-10, -8.5,-9.5,-10,-10.5,-10,-9.5,-8.5,-7.5,-7.5,-8, -8,-8.5,-8,-8.5,-9,-9.5,-9,-9.5,-9,-8.5, -8,-8.5,-9,-8.5,-8,-8.5,-9,-8.5,-8,-8.5, -8.1,-8.7,-9.1,-8.4,-7.9,-8.6,-9.2,-9.6,-8.9,-8.3, -7.9,-8.6,-9.1,-8.4,-9.1,-10.6,-13.1,-16.5,-17,-12.4, -10.4,-9.6,-11.3,-13]
];

// ---------- Precipitation (mm), steps +6h .. +384h ----------
const meanPrecip = [.1,.1,.1,.1,.1,.1,.1,.1, .1,.1,.2,.2,.4,1.8,3.5,1.3, .6,1,.9,.6,1,1.3,1,.8, 1,1.1,1,1.1,1,.5,.4,.3, .3,.3,.3,.4,.4,.3,.3,.3, .3,.3,.3,.3,.4,.4,.4,.4, .3,.4,.3,.6,.5,.3,.3,.3, .4,.4,.3,.3,.3,.4,.3,.2];
const controlPrecip = [0,0,0,0,0,0,0,0, 0,0,0,0,1,8.5,5,1.5, .3,0,0,0,0,0,0,0, 0,0,0,0,0,0,0,0, 0,0,0,0,0,0,0,0, 0,0,0,0,0,0,0,0, 0,0,0,0,0,0,0,0, 0,0,0,0,0,0,0,0];
const gfsPrecip = [0,0,0,0,0,0,0,0, 0,0,0,0,0,2,3,1, 0,0,0,0,0,0,0,0, 0,0,0,0,0,0,0,0, 0,0,0,0,0,0,0,0, 0,0,0,0,0,0,0,0, 0,0,0,0,0,0,0,0, 0,0,0,0,0,0,0,0];
const membersPrecip = [
[0,0,0,0,0,0,0,0, 0,0,0,0,1,6,8,2, .5,0,0,0,0,0,0,0, 1,.5,0,0,0,0,0,0, 0,0,0,0,0,0,0,0, 0,0,0,0,0,0,0,0, 0,0,0,0,0,0,0,0, 0,0,0,0,0,0,0,0],
[0,0,0,0,0,0,0,0, 0,0,0,0,0,0,2,1, 0,0,0,0,0,0,0,0, 0,0,0,0,0,0,0,0, 0,0,0,0,0,0,0,0, 0,0,0,.5,0,0,0,0, 0,0,0,0,0,0,0,0, 0,0,0,0,0,0,0,0],
[0,0,0,0,0,0,0,0, 0,0,0,0,0,0,1.5,.5, 0,0,0,0,0,0,0,0, 0,0,0,0,0,0,0,0, 0,0,0,0,0,0,0,0, 0,0,0,0,0,1,1.5,0, 0,0,0,0,0,0,0,0, 0,0,0,0,0,0,0,0],
[0,0,0,0,0,0,0,0, 0,0,0,0,0,5,19,3, .5,0,0,0,0,0,0,0, 0,0,0,0,0,0,0,0, 0,0,0,0,0,0,0,0, 0,0,0,0,0,0,0,0, 0,0,0,0,0,0,0,0, 0,0,0,0,0,0,0,0],
[0,0,0,0,0,0,0,0, 0,0,0,0,0,0,0,0, 0,0,0,0,1,3.5,6.5,3.5, .5,0,0,0,0,0,0,0, 0,0,0,0,0,0,0,0, 0,0,0,0,0,0,0,0, 0,0,0,0,0,0,0,0, 0,0,0,0,0,0,0,0],
[0,0,0,0,0,0,0,0, 0,0,0,0,0,0,1,0, 0,0,0,0,0,2,4.9,4.2, 4.1,2.2,2.8,3.1,3.3,4.9,5.6,1, 0,0,0,0,0,0,0,0, 0,0,0,0,0,0,0,0, 0,0,0,0,1,2,0,0, 0,0,0,0,0,0,0,0],
[0,0,0,0,0,0,0,0, 0,0,0,0,0,3,2,5.3, .5,0,0,0,0,0,0,0, 0,0,0,0,0,0,0,0, 0,0,0,0,0,0,0,0, 0,0,.5,0,0,0,0,0, 0,0,0,0,0,0,0,0, .5,0,0,0,0,0,0,0],
[0,0,0,0,0,0,0,0, 0,0,0,0,1,5,4,1, 0,0,0,0,0,1,0,0, 0,0,0,0,0,0,0,0, 0,0,0,0,0,0,0,0, 0,0,0,0,0,0,0,0, 0,0,0,0,0,0,0,0, 2.6,1,0,0,0,0,0,0],
[0,0,0,0,0,0,0,0, 0,0,0,0,0,0,2.5,3, 1,0,0,0,0,0,0,0, 0,0,1,3.7,1,0,0,0, 0,0,0,0,0,0,0,0, 0,0,0,0,0,0,0,0, 1.5,0,0,0,1.7,0,0,0, 0,0,0,0,.5,3.3,.5,0],
[0,0,0,0,0,0,0,0, 0,0,0,0,1,8.5,9,2, 0,4.5,1,0,0,0,0,0, 0,0,0,0,0,0,0,0, 0,0,0,0,0,0,0,0, 0,2.3,3,1,0,0,0,0, 0,0,0,0,0,0,0,0, 4.4,1.5,0,0,0,1,0,0],
[0,0,0,0,0,0,0,0, 0,0,0,0,0,0,0,0, 0,0,0,0,0,0,0,0, 0,0,0,0,0,0,0,0, 0,0,0,0,0,0,0,.8, .5,0,0,0,0,0,0,0, 0,0,0,0,0,0,0,0, 0,0,0,0,0,0,0,0],
[0,0,0,0,0,0,0,0, 0,0,0,0,0,4,22.6,4, .5,0,0,0,0,0,0,0, 0,0,0,0,0,0,0,0, 0,0,0,0,0,0,0,0, 0,0,0,0,0,0,1,2.5, 1.5,0,0,0,0,0,0,0, 0,0,0,0,0,0,0,0],
[0,0,0,0,0,0,0,0, 0,0,0,0,0,0,1.5,0, 0,0,0,0,0,0,0,0, 1,0,0,0,0,0,0,0, 0,0,0,0,0,0,0,0, 0,0,0,0,0,0,0,0, 0,0,0,2,10.8,2,0,0, 0,0,0,0,0,0,0,0],
[0,0,0,0,0,0,0,0, 0,0,0,0,0,0,3,1, 0,0,0,0,0,0,0,0, 0,0,0,0,0,0,0,0, 0,0,1,3.7,.5,0,0,0, 0,0,0,0,0,0,0,0, 0,0,0,0,0,0,0,0, 0,0,0,0,0,0,0,0],
[0,0,0,0,0,0,0,0, 0,0,0,0,0,0,2,.5, 0,0,0,0,0,0,0,0, 0,0,0,0,0,.5,0,0, 0,0,0,0,0,0,0,0, 0,0,0,0,0,0,0,0, 0,0,0,0,0,0,0,0, 0,0,0,0,0,0,0,0],
[0,0,0,0,0,0,0,0, 0,0,0,0,0,0,2,1, 0,0,0,0,0,0,0,1.5, 10.6,1.5,0,0,0,0,0,0, 0,0,0,0,0,0,0,0, 0,0,0,0,0,0,0,0, 0,0,0,.8,1.2,0,0,0, 0,0,0,0,0,0,0,0],
[0,0,0,0,0,0,0,0, 0,0,0,0,0,0,2,0, 0,0,0,0,0,0,0,0, 0,0,0,0,0,0,0,0, 0,0,1,2.5,1.7,2,1.5,1, 2.3,0,0,0,0,0,0,0, 0,0,0,0,0,0,0,0, 0,0,0,0,0,0,0,0],
[0,0,0,0,0,0,0,0, 0,0,0,0,0,0,1.5,1, 0,0,0,0,0,0,0,0, 0,0,0,0,0,2.3,2.4,1.5, 0,0,0,0,0,0,0,0, 0,0,0,0,0,0,0,0, 0,0,0,0,0,0,0,0, 0,0,0,0,0,0,0,0],
[0,0,0,0,0,0,0,0, 0,0,0,0,0,.5,1,0, 0,0,7.8,2,0,0,0,0, 0,0,0,0,0,0,1,6, 1,0,0,0,0,0,0,0, 0,0,0,0,0,0,0,0, 0,0,0,0,0,0,0,0, 0,0,0,1,0,0,0,0],
[0,0,0,0,0,0,0,0, 0,0,0,0,0,0,1.5,0, 0,3.3,3.3,1,0,0,0,0, 0,0,0,0,0,0,0,0, 0,0,0,0,0,0,0,0, 0,0,0,0,0,0,1.8,1, 0,0,0,0,0,0,0,0, 0,0,0,0,0,0,0,0],
[0,0,0,0,0,0,0,0, 0,0,0,.5,2.5,1.5,3,1, 0,0,0,0,1,3,4.2,6, 6.5,6.3,6,4.2,2.5,.5,0,0, 0,0,0,0,0,0,0,0, 1.5,3,3,1,0,0,0,0, 0,0,0,0,0,0,0,0, 0,0,0,0,0,0,0,0],
[0,0,0,0,0,0,0,0, 0,0,0,0,0,0,2,.8, 0,0,0,0,0,0,0,0, 0,0,0,0,0,0,0,0, 0,0,0,0,0,0,0,0, 0,0,0,0,.5,0,0,0, 0,0,0,0,0,0,0,0, 0,0,0,0,0,0,0,0],
[0,0,0,0,0,0,0,0, 0,0,0,0,0,0,1.2,1, 0,0,0,0,0,0,0,0, 0,0,0,0,0,0,0,0, 0,0,0,0,0,0,1,1, 0,0,0,0,0,0,0,0, 0,0,0,0,0,0,1,1.2, 0,0,0,0,0,1,0,0],
[0,0,0,0,0,0,0,0, 0,0,0,0,0,2,3,1.5, 0,0,0,0,0,0,0,0, 0,0,0,0,0,0,0,0, 3,2.5,2,1,0,0,0,0, 0,0,0,0,0,0,0,0, 0,0,0,0,0,0,0,0, 0,0,0,0,0,0,0,0],
[0,0,0,0,0,0,0,0, 0,0,0,0,0,1,5,7.1, 2,0,0,0,0,0,0,0, 0,0,0,0,0,0,0,0, 0,0,0,0,1,2.3,.5,0, 0,0,0,0,0,0,0,0, 0,0,0,0,0,0,0,0, 0,0,0,0,0,0,0,0],
[0,0,0,0,0,0,0,0, 0,0,0,0,0,0,2.5,0, 0,0,0,0,0,1,0,0, 0,0,0,0,0,0,0,0, 0,2.8,2,1,0,0,0,0, 0,0,0,0,0,0,0,0, 0,0,0,0,0,0,0,0, 0,0,0,0,0,0,0,0],
[0,0,0,0,0,0,0,0, 0,0,0,0,0,0,3,1, 0,0,0,2.3,2.6,1,0,0, 0,0,0,0,0,0,0,0, 0,0,0,0,0,0,0,0, 0,0,0,0,0,1.7,0,0, 0,0,0,0,0,0,0,0, 0,0,0,0,0,0,0,0],
[0,0,0,0,0,0,0,0, 0,0,0,0,2,10.9,5,1.5, 0,0,0,0,0,0,0,0, 0,0,1,9.4,12.4,3.5,.5,0, 0,0,0,0,0,0,0,0, 0,0,0,0,0,0,0,0, 0,0,0,0,0,0,0,0, 0,0,0,0,0,0,0,0],
[.3,0,0,0,0,0,0,0, 0,0,1.4,.4,0,0,1.5,0, 0,0,0,0,0,0,0,1.3, 0,0,0,0,0,0,0,0, 0,0,0,0,0,0,0,0, 0,1.2,1.3,1,0,0,0,0, 2.7,3.7,1,0,0,0,0,0, 0,0,0,0,1.2,0,0,0],
[0,0,0,0,0,0,0,0, 0,0,0,0,0,0,3.5,2, .5,0,0,0,0,0,0,0, 0,0,0,0,0,0,0,0, 0,0,0,0,0,0,0,0, 0,0,0,0,0,0,0,0, 0,0,0,0,0,0,0,0, 0,0,0,0,0,0,0,0]
];

// ---------- sanity checks ----------
[mean850,control850,gfs850,mean500,control500,gfs500].concat(members850,members500).forEach((a,k)=>{ if(a.length!==65) throw new Error("temp series "+k+" has "+a.length); });
[meanPrecip,controlPrecip,gfsPrecip].concat(membersPrecip).forEach((a,k)=>{ if(a.length!==64) throw new Error("precip series "+k+" has "+a.length); });

// ---------- drawing ----------
const svg = d3.select("#c");
const x  = d3.scaleLinear().domain([0,384]).range([50,690]);
const yT = d3.scaleLinear().domain([-45,30]).range([545.5,20.5]);
const yP = d3.scaleLinear().domain([0,45]).range([545.5,230.5]);
const xT = i => x(i*stepHours);
const xPr = i => x((i+1)*stepHours);

const grid = svg.append("g");
leftTickLabels.forEach(v=>{
  const y = yT(v);
  grid.append("line").attr("x1",50).attr("x2",690).attr("y1",y).attr("y2",y)
    .attr("stroke","#c0c0c0").attr("stroke-width", v===0?3:(v%10===0?2:1));
});
dayLabels.forEach((d,k)=>{
  const gx = Math.round(x(firstDayHour+24*k))+0.5;
  grid.append("line").attr("x1",gx).attr("x2",gx).attr("y1",0).attr("y2",600)
    .attr("stroke","#c0c0c0").attr("stroke-width",1);
});

function drawSeries(g, vals, color, width, xf, yf, markers){
  const line = d3.line().x((d,i)=>xf(i)).y(d=>yf(d));
  g.append("path").attr("d", line(vals)).attr("fill","none").attr("stroke",color)
    .attr("stroke-width",width).attr("stroke-linejoin","round").attr("stroke-linecap","round");
  if(markers){
    const d = vals.map((v,i)=>{const cx=xf(i), cy=yf(v); return `M${cx-1.5},${cy}h3M${cx},${cy-1.5}v3`;}).join("");
    g.append("path").attr("d",d).attr("fill","none").attr("stroke",color).attr("stroke-width",1);
  }
}

const dataG = svg.append("g");
members850.forEach((m,k)=>drawSeries(dataG, m, memberColors[k], 1, xT, yT, true));
members500.forEach((m,k)=>drawSeries(dataG, m, memberColors[k], 1, xT, yT, true));
membersPrecip.forEach((m,k)=>drawSeries(dataG, m, memberColors[k], 1, xPr, yP, true));

drawSeries(dataG, gfs850, "#000", 3, xT, yT, false);
drawSeries(dataG, gfs500, "#000", 3, xT, yT, false);
drawSeries(dataG, gfsPrecip, "#000", 3, xPr, yP, false);
drawSeries(dataG, control850, "#0000ff", 3, xT, yT, false);
drawSeries(dataG, control500, "#0000ff", 3, xT, yT, false);
drawSeries(dataG, controlPrecip, "#0000ff", 3, xPr, yP, false);
drawSeries(dataG, mean850, "#ff0000", 5, xT, yT, false);
drawSeries(dataG, mean500, "#ff0000", 5, xT, yT, false);
drawSeries(dataG, meanPrecip, "#ff0000", 4, xPr, yP, false);

// frame
const fr = svg.append("g").attr("stroke","#000").attr("stroke-width",2);
fr.append("line").attr("x1",50).attr("x2",50).attr("y1",0).attr("y2",601);
fr.append("line").attr("x1",690).attr("x2",690).attr("y1",0).attr("y2",601);
fr.append("line").attr("x1",49).attr("x2",691).attr("y1",600).attr("y2",600);

// axis labels
const lab = svg.append("g");
leftTickLabels.forEach((v,k)=>{
  lab.append("text").attr("x",20).attr("y",yT(v)+7).text(v);
  lab.append("text").attr("x",714).attr("y",yT(v)+7).attr("text-anchor","middle").text(rightTickLabels[k]);
});
dayLabels.forEach((d,k)=>{
  const gx = Math.round(x(firstDayHour+24*k));
  lab.append("text").attr("transform",`translate(${gx+8.5},602) rotate(-90)`).attr("text-anchor","end").text(d);
});
lab.append("text").attr("x",60).attr("y",27).text("Temp. 850hPa");
lab.append("text").attr("x",60).attr("y",263).text("Temp. 500hPa");
lab.append("text").attr("x",60).attr("y",540).text("Précipitations");
lab.append("text").attr("x",20).attr("y",610).text("(°c)");
lab.append("text").attr("x",10).attr("y",626).text("Alt. 808m");
lab.append("text").attr("x",710).attr("y",611).text("(mm)");

// legend
const lg = svg.append("g");
lg.append("line").attr("x1",35).attr("x2",66).attr("y1",637).attr("y2",637).attr("stroke","#ff0000").attr("stroke-width",4);
lg.append("text").attr("x",75).attr("y",641).text("Moyenne des scénarios");
lg.append("line").attr("x1",225).attr("x2",256).attr("y1",637).attr("y2",637).attr("stroke","#0000ff").attr("stroke-width",4);
lg.append("text").attr("x",265).attr("y",641).text("Run de contrôle");
lg.append("line").attr("x1",225).attr("x2",256).attr("y1",647.5).attr("y2",647.5).attr("stroke","#000").attr("stroke-width",4);
lg.append("text").attr("x",265).attr("y",650.5).text("Run GFS");
// snowflake
const sf = lg.append("g").attr("transform","translate(60,658)").attr("stroke","#3a9ad9").attr("stroke-width",1.4).attr("stroke-linecap","round");
[0,60,120].forEach(a=>{
  sf.append("line").attr("x1",0).attr("y1",-5).attr("x2",0).attr("y2",5).attr("transform",`rotate(${a})`);
  sf.append("path").attr("d","M-2,-5L0,-3L2,-5M-2,5L0,3L2,5").attr("fill","none").attr("transform",`rotate(${a})`).attr("stroke-width",1);
});
lg.append("text").attr("x",75).attr("y",662).text("Risque neige");
lg.append("text").attr("x",340).attr("y",656).text("30 Perts.");
memberNames.forEach((n,k)=>{
  const sx = 404 + k*10.84;
  lg.append("rect").attr("x",sx).attr("y",647).attr("width",10).attr("height",9).attr("fill",memberColors[k]);
  lg.append("text").attr("x",sx+5).attr("y",645.5).attr("text-anchor","middle")
    .style("font-size","7px").style("font-weight","bold").style("letter-spacing","-0.3px").text(n);
});

// title box
lg.append("rect").attr("x",20).attr("y",667).attr("width",420).attr("height",40).attr("fill","none").attr("stroke","#000").attr("stroke-width",2);
lg.append("text").attr("x",30).attr("y",681).style("font-weight","bold").style("font-size","11.3px").text("Diagramme des ensembles GEFS sur 384h : 39.9N 0.7W");
lg.append("text").attr("x",30).attr("y",695).text("Températures 850hPa et 500hPa (°C) , précipitations (mm)");
lg.append("text").attr("x",450).attr("y",679).text("Ensemble GEFS du 17/08/2026 - 06Z");
lg.append("text").attr("x",450).attr("y",695).style("font-weight","bold").style("font-size","11.5px").text("Copyright 2026 Meteociel.fr");
</script>
</body></html>
